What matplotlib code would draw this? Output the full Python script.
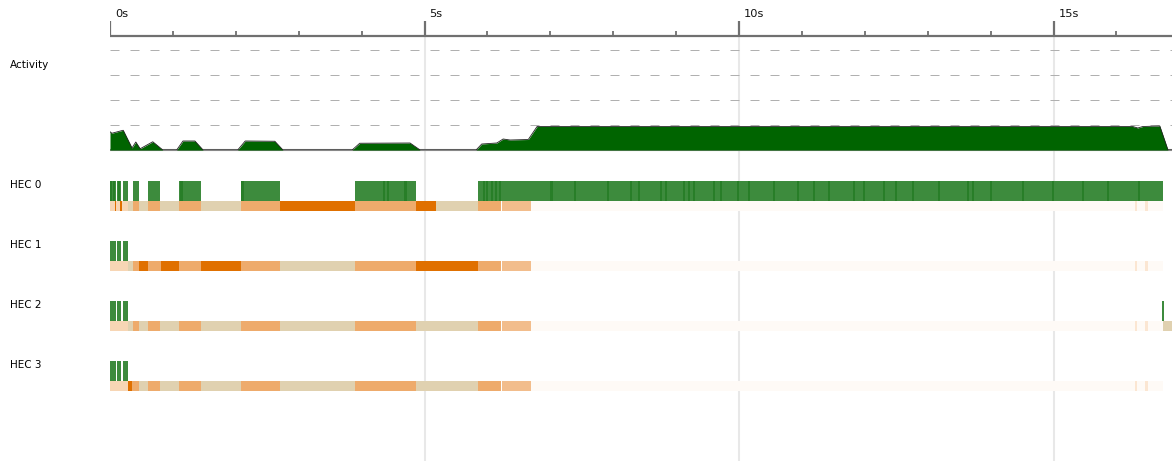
import matplotlib.pyplot as plt
import numpy as np

W, H = 1172, 461
X0 = 110                  # pixel where 0s sits
PX_PER_S = 62.9
T_MAX = (W - X0) / PX_PER_S

# activity profile (HECs busy)
act_t = [0.0, 0.03, 0.21, 0.35, 0.41, 0.48, 0.68, 0.84, 1.06, 1.16, 1.35, 1.48,
         2.03, 2.15, 2.62, 2.75, 3.85, 3.97, 4.77, 4.93, 5.82, 5.91, 6.15, 6.25,
         6.36, 6.65, 6.79, 16.26, 16.34, 16.42, 16.69, 16.82, T_MAX]
act_v = [0.73, 0.67, 0.79, 0.08, 0.32, 0.05, 0.33, 0.0, 0.0, 0.36, 0.36, 0.0,
         0.0, 0.36, 0.35, 0.0, 0.0, 0.27, 0.28, 0.0, 0.0, 0.24, 0.28, 0.44,
         0.40, 0.42, 0.94, 0.94, 0.88, 0.94, 0.96, 0.0, 0.0]

hec_names = ['HEC 0', 'HEC 1', 'HEC 2', 'HEC 3']

# running spans per HEC (start, end) in seconds
early = [(0.0, 0.095), (0.11, 0.175), (0.21, 0.29)]
hec_run = [
    early + [(0.37, 0.46), (0.60, 0.79), (1.10, 1.45), (2.08, 2.70),
             (3.90, 4.86), (5.85, 16.74)],
    early,
    early + [(16.73, 16.75)],
    early,
]
# darker stripes inside HEC 0 running spans
hec0_dark = [0.0, 0.04, 0.12, 1.12, 2.09, 4.34, 4.40, 4.68, 5.93, 5.98, 6.05,
             6.12, 6.18, 7.00, 7.38, 7.90, 8.27, 8.39, 8.74, 8.82, 9.11, 9.19,
             9.27, 9.59, 9.70, 9.97, 10.14, 10.54, 10.92, 11.18, 11.41, 11.81,
             11.97, 12.29, 12.48, 12.75, 13.16, 13.62, 13.70, 13.99, 14.50,
             14.98, 15.45, 15.85, 16.34]

# heap/state strip per HEC: (start, end, level)
hec_state = [
    [(0.0, 0.08, 'p'), (0.08, 0.095, 'd'), (0.095, 0.16, 'p'), (0.16, 0.19, 'd'),
     (0.19, 0.29, 'p'), (0.29, 0.37, 't'), (0.37, 0.46, 'm'), (0.46, 0.60, 't'),
     (0.60, 0.79, 'm'), (0.79, 1.10, 't'), (1.10, 1.45, 'm'), (1.45, 2.08, 't'),
     (2.08, 2.70, 'm'), (2.70, 3.90, 'd'), (3.90, 4.86, 'm'), (4.86, 5.18, 'd'),
     (5.18, 5.85, 't'), (5.85, 6.22, 'm'), (6.23, 6.69, 'l'), (6.69, 16.74, 'f')],
    [(0.0, 0.29, 'p'), (0.29, 0.37, 't'), (0.37, 0.46, 'm'), (0.46, 0.60, 'd'),
     (0.60, 0.81, 'm'), (0.81, 1.10, 'd'), (1.10, 1.45, 'm'), (1.45, 2.08, 'd'),
     (2.08, 2.70, 'm'), (2.70, 3.90, 't'), (3.90, 4.86, 'm'), (4.86, 5.85, 'd'),
     (5.85, 6.22, 'm'), (6.23, 6.69, 'l'), (6.69, 16.74, 'f')],
    [(0.0, 0.29, 'p'), (0.29, 0.37, 't'), (0.37, 0.46, 'm'), (0.46, 0.60, 't'),
     (0.60, 0.79, 'm'), (0.79, 1.10, 't'), (1.10, 1.45, 'm'), (1.45, 2.08, 't'),
     (2.08, 2.70, 'm'), (2.70, 3.90, 't'), (3.90, 4.86, 'm'), (4.86, 5.85, 't'),
     (5.85, 6.22, 'm'), (6.23, 6.69, 'l'), (6.69, 16.74, 'f'), (16.74, T_MAX, 't')],
    [(0.0, 0.28, 'p'), (0.28, 0.345, 'd'), (0.345, 0.46, 'm'), (0.46, 0.60, 't'),
     (0.60, 0.79, 'm'), (0.79, 1.10, 't'), (1.10, 1.45, 'm'), (1.45, 2.08, 't'),
     (2.08, 2.70, 'm'), (2.70, 3.90, 't'), (3.90, 4.86, 'm'), (4.86, 5.85, 't'),
     (5.85, 6.22, 'm'), (6.23, 6.69, 'l'), (6.69, 16.74, 'f')],
]
faint_marks = [(16.30, 16.33), (16.45, 16.50)]

state_colors = {'p': '#f7d6b5', 't': '#e0d1b0', 'm': '#eeab6c', 'd': '#e07000',
                'l': '#f2bd8c', 'f': '#fefaf6'}
GREEN = '#3d8b3d'
DARK_GREEN = '#107010'

major_ticks = [0, 5, 10, 15]
minor_ticks = [t for t in range(1, 17) if t not in major_ticks]

fig = plt.figure(figsize=(W / 100, H / 100), dpi=100)
ax = fig.add_axes([X0 / W, 0, (W - X0) / W, 1])
ax.set_xlim(0, T_MAX)
ax.set_ylim(H, 0)
ax.axis('off')

# grid
ax.vlines(major_ticks[1:], 36, H, colors='#e8e8e8', lw=1.5, zorder=0)

# time axis on top
ax.hlines(36, 0, T_MAX, colors='#707070', lw=1.6, zorder=3)
ax.vlines(major_ticks, 21, 36, colors='#707070', lw=1.6, zorder=3)
ax.vlines(minor_ticks, 31, 36, colors='#707070', lw=1.3, zorder=3)
for t in major_ticks:
    ax.text(t + 0.08, 14, f'{t}s', ha='left', va='center', fontsize=8.2, color='#111111')

# HEC lanes
lane_tops = [181, 241, 301, 361]
for i, top in enumerate(lane_tops):
    runs = hec_run[i]
    ax.broken_barh([(a, b - a) for a, b in runs], (top, 20),
                   facecolors=GREEN, edgecolor='none', zorder=2)
    if i == 0:
        ax.broken_barh([(t, 0.035) for t in hec0_dark], (top, 20),
                       facecolors=DARK_GREEN, edgecolor='none', alpha=0.45, zorder=2)
    segs = hec_state[i]
    ax.broken_barh([(a, b - a) for a, b, _ in segs], (top + 20, 10),
                   facecolors=[state_colors[c] for _, _, c in segs],
                   edgecolor='none', zorder=2)
    ax.broken_barh([(a, b - a) for a, b in faint_marks], (top + 20, 10),
                   facecolors='#fbe6d2', edgecolor='none', zorder=2)

# labels
fig.text(10 / W, 1 - 65 / H, 'Activity', ha='left', va='center', fontsize=7.5)
for name, top in zip(hec_names, lane_tops):
    fig.text(10 / W, 1 - (top + 4) / H, name, ha='left', va='center', fontsize=7.5)

# activity panel
ax2 = fig.add_axes([X0 / W, (H - 150) / H, (W - X0) / W, 100 / H])
ax2.set_xlim(0, T_MAX)
ax2.set_ylim(0, 4)
ax2.patch.set_alpha(0)
ax2.axis('off')
ax2.hlines([1, 2, 3, 4], 0, T_MAX, colors='#b0b0b0', lw=0.72,
           linestyles=(0, (9, 11)), clip_on=False, zorder=1)
ax2.hlines(0, 0, T_MAX, colors='#888888', lw=1.5, clip_on=False, zorder=2)
ax2.fill_between(act_t, 0, act_v, color='#006400', lw=0, zorder=3)
ax2.plot(act_t, act_v, color='#222222', lw=0.6, zorder=4)

fig.savefig('out.png', dpi=100)
